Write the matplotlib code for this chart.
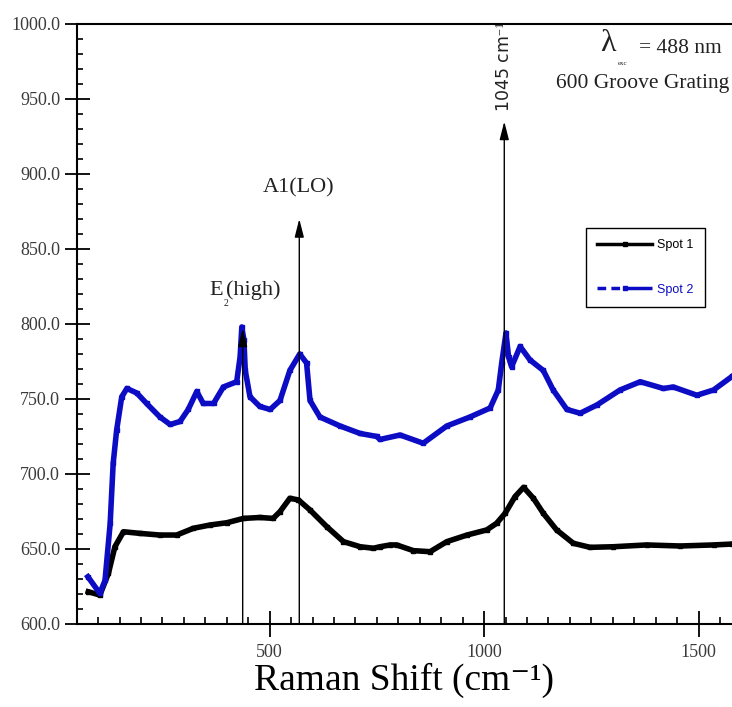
import numpy as np
import matplotlib.pyplot as plt
from matplotlib.lines import Line2D
from matplotlib.ticker import MultipleLocator, FormatStrFormatter

plt.rcParams['font.family'] = ['Liberation Serif', 'DejaVu Serif']
plt.rcParams['mathtext.fontset'] = 'custom'
plt.rcParams['mathtext.rm'] = 'Liberation Serif'
plt.rcParams['mathtext.it'] = 'Liberation Serif:italic'

# Raman spectra
spot1_x = [77, 104, 124, 139, 159, 198, 244, 283, 322, 361, 400, 439, 477, 508,
           524, 547, 567, 594, 633, 672, 711, 742, 757, 781, 796, 835, 874, 913,
           960, 1006, 1029, 1049, 1072, 1092, 1115, 1138, 1169, 1208, 1247, 1301,
           1379, 1457, 1535, 1578]
spot1_y = [621.5, 619.3, 633.8, 651.5, 661.5, 660.4, 659.3, 659.3, 663.8, 666.0,
           667.5, 670.4, 671.0, 670.4, 674.9, 683.8, 682.7, 676.0, 664.9, 654.9,
           651.5, 650.5, 651.5, 652.7, 652.7, 648.9, 648.2, 654.9, 659.3, 662.7,
           667.1, 673.8, 684.9, 691.1, 683.8, 673.8, 662.7, 653.8, 651.1, 651.5,
           652.7, 652.0, 652.7, 653.3]

spot2_x = [76, 104, 116, 128, 135, 143, 155, 167, 190, 213, 244, 268, 291, 310,
           330, 345, 369, 392, 423, 431, 435, 440, 443, 454, 477, 501, 524, 547,
           570, 586, 594, 617, 664, 711, 750, 757, 804, 858, 913, 967, 1014, 1033,
           1041, 1051, 1057, 1064, 1084, 1107, 1138, 1161, 1193, 1224, 1263, 1317,
           1364, 1418, 1441, 1496, 1535, 1578]
spot2_y = [631.5, 620.4, 629.0, 667.0, 707.0, 729.0, 751.5, 757.0, 754.0, 747.0,
           738.0, 733.0, 735.0, 743.0, 755.0, 747.0, 747.0, 758.0, 761.5, 778.0,
           798.0, 789.0, 769.0, 751.5, 745.0, 743.0, 749.0, 769.0, 780.0, 774.0,
           749.0, 738.0, 732.0, 727.0, 725.0, 723.0, 726.0, 720.5, 732.0, 738.0,
           744.0, 756.0, 774.0, 794.0, 778.0, 771.5, 785.0, 776.0, 769.0, 756.0,
           743.0, 740.5, 746.0, 756.0, 761.5, 757.0, 758.0, 752.5, 756.0, 765.0]

# arrows marking the phonon modes
peak_x = [437, 569, 1047]
peak_top = [797, 870, 935]

blue = '#0c0cc4'
ink = '#222222'

fig = plt.figure(figsize=(7.32, 7.07), dpi=100)
ax = fig.add_axes([0.1048, 0.1174, 0.8952, 0.8487])

ax.plot(spot1_x, spot1_y, color='black', lw=4, marker='s', markersize=3.5)
ax.plot(spot2_x, spot2_y, color=blue, lw=4, marker='s', markersize=3.5)

for px, pt in zip(peak_x, peak_top):
    ax.annotate('', xy=(px, pt), xytext=(px, 600),
                arrowprops=dict(arrowstyle='-|>,head_length=1.1,head_width=0.28',
                                color='black', lw=1, shrinkA=0, shrinkB=0))

# E2(high): tiny subscript like the original
ax.text(392, 819, 'E', fontsize=16, ha='right', va='baseline', color=ink)
ax.text(392.5, 812, '2', fontsize=7, ha='left', va='baseline', color=ink)
ax.text(398, 819, '(high)', fontsize=16, ha='left', va='baseline', color=ink)
ax.text(568, 891, 'A1(LO)', fontsize=16, ha='center', va='center', color=ink)
ax.text(1047, 941, '1045 cm$^{\\mathrm{-1}}$', fontsize=12.5, ha='center', va='bottom',
        rotation=90, family='DejaVu Sans', color=ink)

ax.text(1289, 982, '\u03bb', fontsize=23, ha='center', va='baseline', color=ink)
ax.text(1312, 973.5, 'exc', fontsize=5, ha='left', va='center', color=ink)
ax.text(1361, 980.5, '= 488 nm', fontsize=15.5, ha='left', va='baseline', color=ink)
ax.text(1571, 957.5, '600 Groove Grating', fontsize=15.5, ha='right', va='baseline',
        color=ink)

ax.set_xlim(50, 1578)
ax.set_ylim(600, 1000)
ax.xaxis.set_major_locator(MultipleLocator(500))
ax.xaxis.set_minor_locator(MultipleLocator(50))
ax.yaxis.set_major_locator(MultipleLocator(50))
ax.yaxis.set_minor_locator(MultipleLocator(10))
ax.yaxis.set_major_formatter(FormatStrFormatter('%.1f'))

ax.tick_params(axis='x', which='major', direction='inout', length=19, width=1.3,
               pad=5, labelsize=13, labelcolor='#3a3a3a')
ax.tick_params(axis='x', which='minor', direction='in', length=5, width=1.2)
ax.tick_params(axis='y', which='major', direction='inout', length=18, width=1.3,
               pad=3, labelsize=13, labelcolor='#3a3a3a')
ax.tick_params(axis='y', which='minor', direction='in', length=4, width=1.2)

for side in ['left', 'bottom', 'top']:
    ax.spines[side].set_linewidth(1.5)
ax.spines['right'].set_visible(False)

ax.set_xlabel('Raman Shift (cm\u207b\u00b9)', fontsize=27, labelpad=1)

h1 = Line2D([], [], color='black', lw=2.5, marker='s', markersize=2.5)
h2 = Line2D([], [], color=blue, lw=2.5, marker='s', markersize=2.5,
            ls=(0, (2.5, 1.5, 2.5, 1.0, 40, 1)))
leg = ax.legend([h1, h2], ['Spot 1', 'Spot 2'], loc='upper left',
                bbox_to_anchor=(0.777, 0.66), borderaxespad=0, fancybox=False,
                edgecolor='black', framealpha=1, handlelength=4.4, labelspacing=2.6,
                borderpad=0.9, handletextpad=0.4, numpoints=1,
                prop={'family': 'Liberation Sans', 'size': 9})
leg.get_frame().set_linewidth(1)
leg.get_texts()[1].set_color(blue)

fig.savefig('out.png', dpi=100)
